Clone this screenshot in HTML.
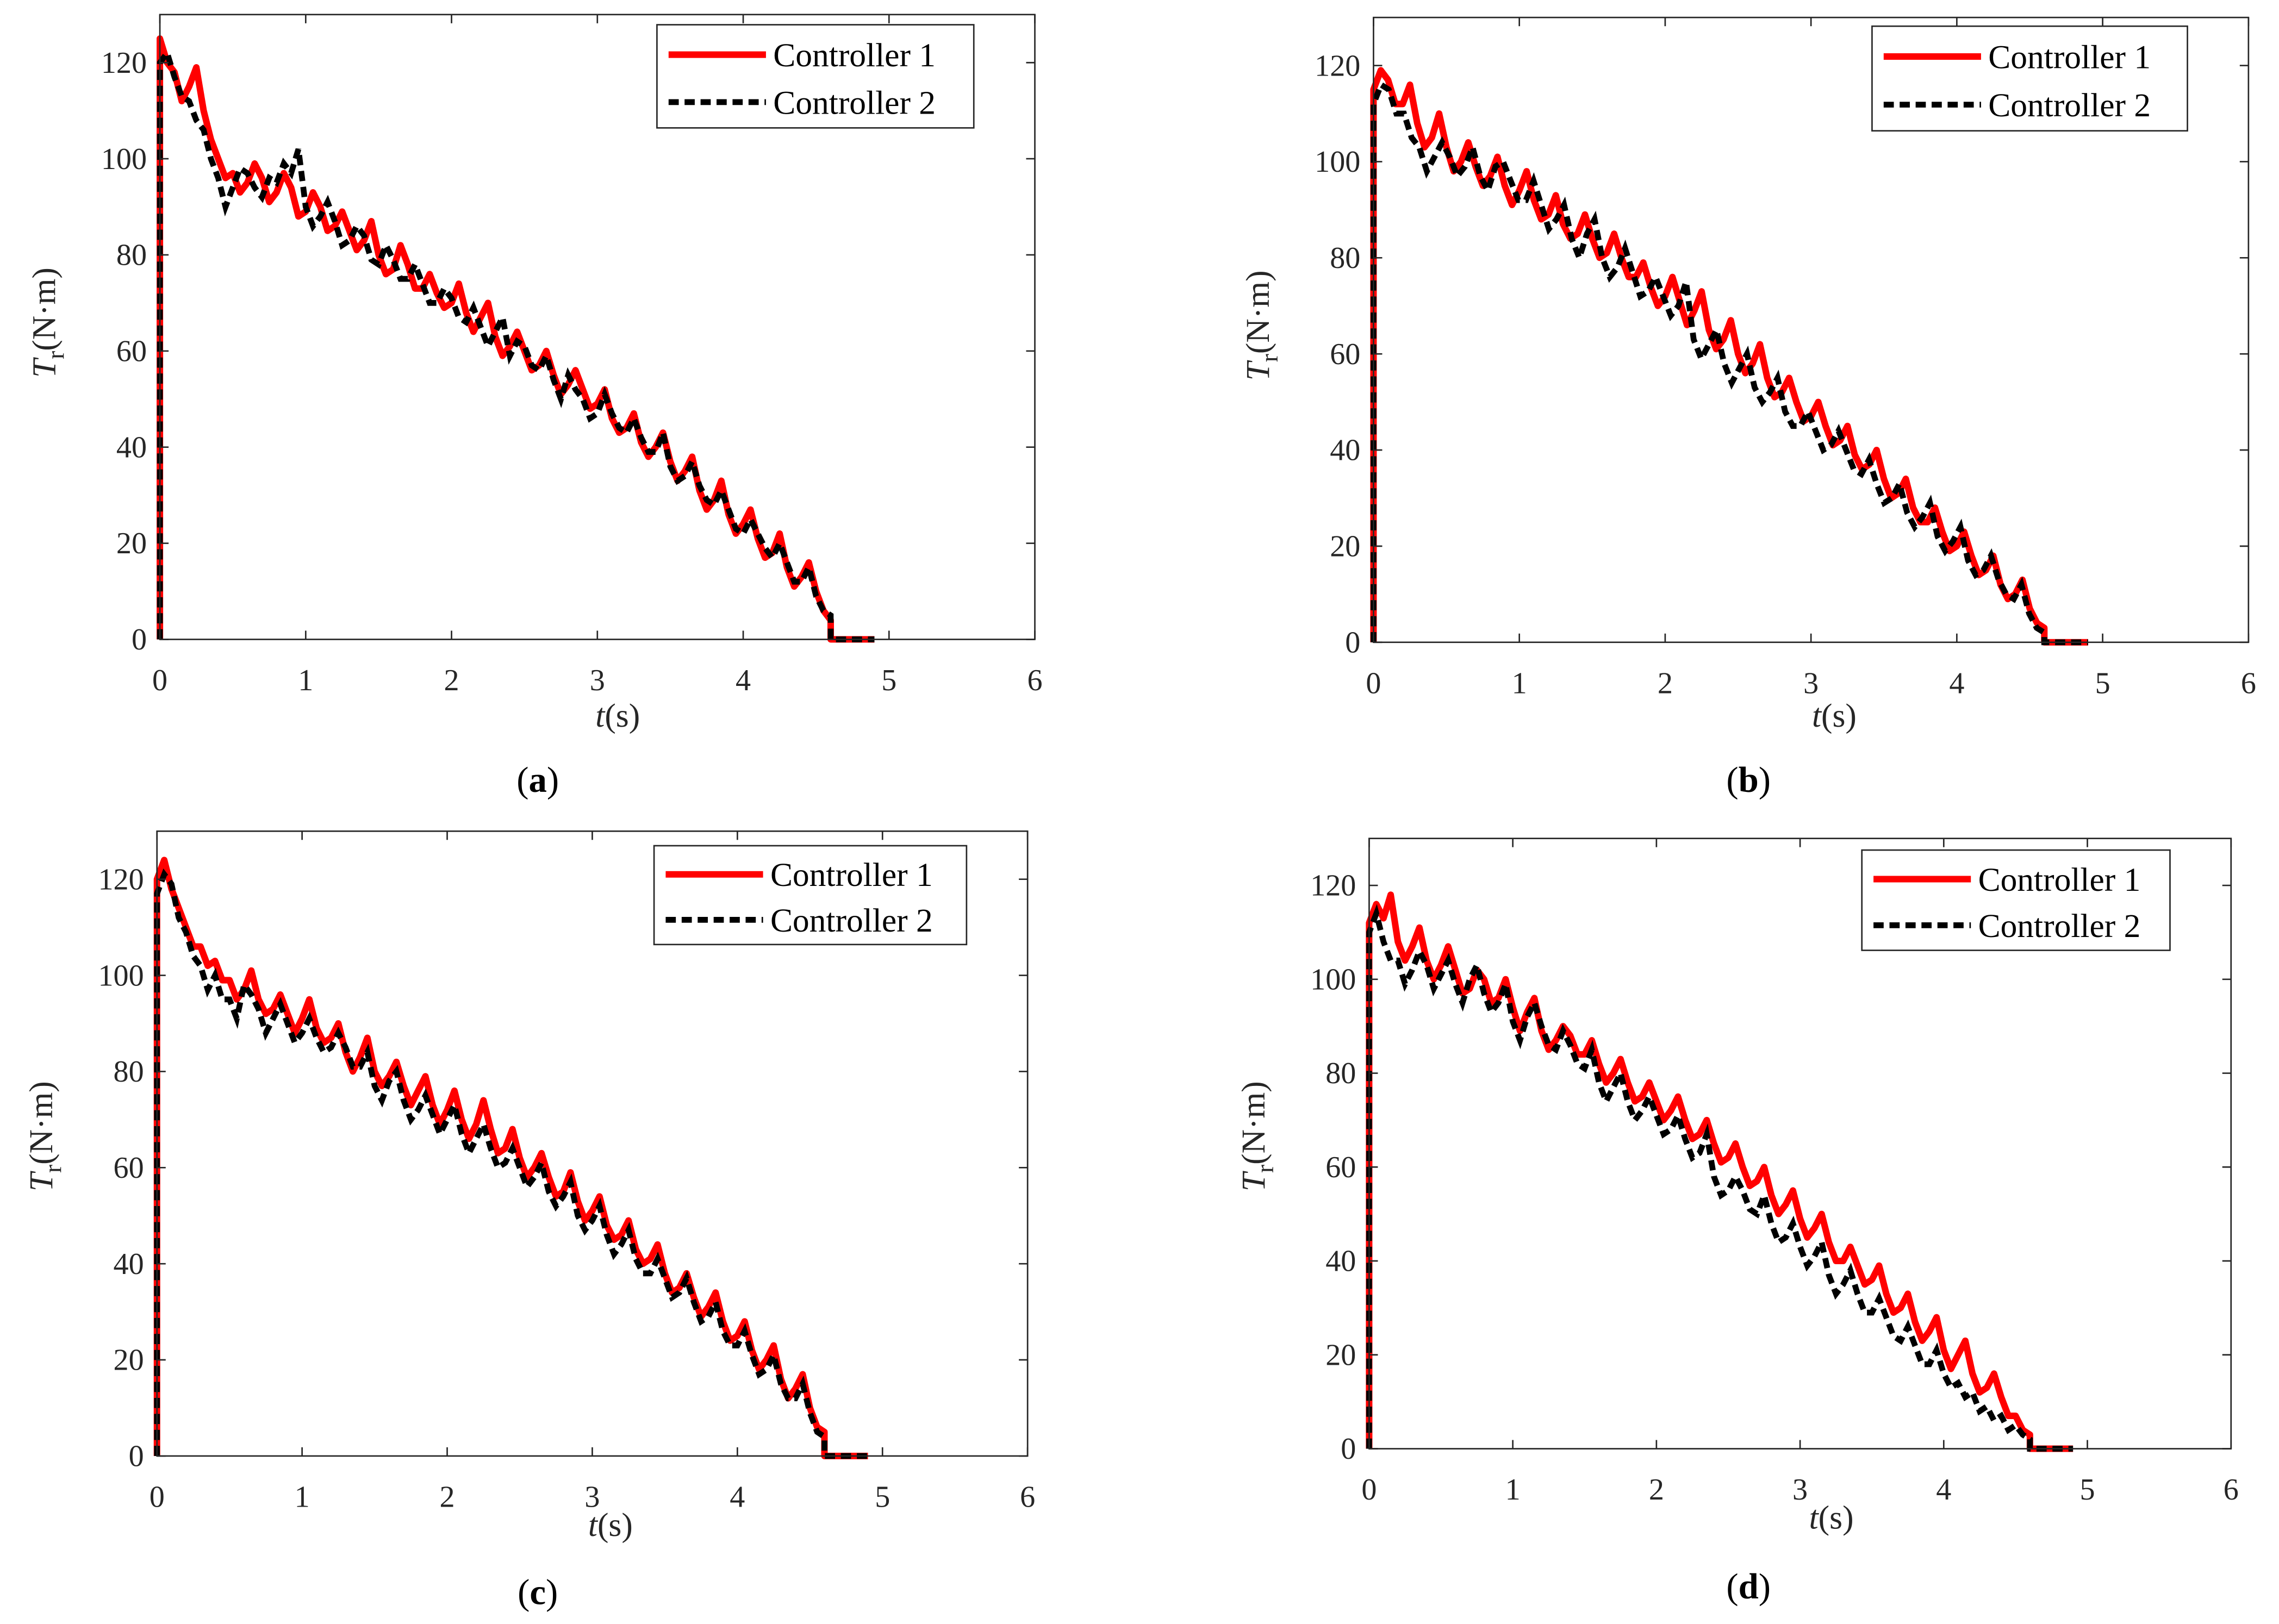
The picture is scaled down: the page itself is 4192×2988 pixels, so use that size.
<!DOCTYPE html>
<html><head><meta charset="utf-8"><style>
html,body{margin:0;padding:0;background:#fff;}
svg{display:block;font-family:'Liberation Serif',serif;}
svg text{font-family:'Liberation Serif',serif;}
</style></head><body>
<svg id="fig" width="4192" height="2988" viewBox="0 0 1568 1117.6" xmlns="http://www.w3.org/2000/svg"></svg>
<script>
const lastT = 4.6;
const endT = 4.9;
const xTicks = [0,1,2,3,4,5,6];
const yTicks = [0,20,40,60,80,100,120];
const a1 = [125,120,118,112,115,119,110,104,100,96,97,93,95,99,96,91,93,97,94,88,89,93,90,85,86,89,85,81,83,87,80,76,77,82,78,73,73,76,72,69,70,74,68,64,67,70,63,59,61,64,60,56,57,60,55,51,53,56,52,48,49,52,46,43,44,47,41,38,40,43,37,33,35,38,31,27,29,33,26,22,24,27,21,17,18,22,15,11,13,16,10,6,4];
const a2 = [120,122,117,113,112,108,106,100,96,90,94,98,97,94,92,96,95,99,97,102,90,86,88,91,87,82,83,86,84,79,78,82,79,75,75,78,74,70,70,73,71,67,66,69,65,61,64,67,59,62,61,57,56,59,54,50,55,52,50,46,47,51,47,44,43,46,42,39,39,43,36,33,34,37,32,29,28,31,27,23,22,25,22,19,17,20,16,12,12,15,9,6,5];
const b1 = [115,119,117,112,112,116,108,103,105,110,103,98,100,104,99,95,97,101,95,91,94,98,92,88,89,93,87,84,85,89,84,80,81,85,80,76,76,79,74,70,72,76,71,66,69,73,65,61,63,67,60,56,58,62,55,51,52,55,50,46,47,50,45,41,42,45,39,36,37,40,34,30,31,34,28,25,25,28,23,19,20,23,18,14,15,18,12,9,10,13,7,4,3];
const b2 = [112,116,115,110,110,105,103,98,101,104,101,97,99,103,97,94,99,100,96,92,92,96,91,86,88,91,84,80,85,88,80,76,78,82,77,72,73,76,72,68,70,75,63,59,62,65,58,54,57,60,53,50,52,55,48,45,45,48,44,40,41,44,40,36,35,38,33,29,30,33,27,24,26,29,22,19,21,24,17,14,15,18,13,10,9,12,6,3,2];
const c1 = [120,124,118,114,110,106,106,102,103,99,99,95,97,101,95,92,93,96,92,88,91,95,89,86,87,90,84,80,83,87,80,77,79,82,77,73,76,79,73,69,72,76,70,66,69,74,68,63,64,68,62,58,60,63,58,54,55,59,53,49,51,54,48,45,46,49,43,40,41,44,38,34,35,38,33,29,31,34,28,24,25,28,22,18,20,23,16,12,14,17,10,6,5];
const c2 = [117,121,119,112,109,104,102,97,100,95,95,91,98,96,93,88,91,94,90,86,88,91,87,84,85,88,85,81,81,84,77,74,78,80,74,70,72,75,71,67,70,73,67,63,66,69,64,60,61,64,60,56,58,61,55,52,54,57,50,47,49,52,46,42,44,47,41,38,38,41,37,33,34,37,32,28,29,32,26,23,23,26,21,17,18,21,15,12,12,15,9,5,4];
const d1 = [112,116,113,118,108,104,107,111,104,100,103,107,102,97,98,102,100,95,96,100,94,89,93,96,89,85,87,90,88,84,84,87,82,78,80,83,78,74,75,78,74,70,72,75,70,66,67,70,65,61,62,65,60,56,57,60,54,50,52,55,49,45,47,50,44,40,40,43,39,35,36,39,33,29,30,33,27,23,25,28,21,17,20,23,16,12,13,16,11,7,7,4,3];
const d2 = [110,114,108,104,104,99,102,106,103,98,101,104,99,95,100,103,97,93,95,99,91,87,92,95,90,86,85,89,86,82,81,85,78,74,77,80,74,70,72,75,71,67,68,71,66,62,63,67,58,54,55,58,55,51,50,54,48,44,45,48,43,39,41,44,37,33,35,38,33,29,29,32,28,24,23,26,22,18,18,21,16,13,14,11,12,8,9,6,7,4,5,3,2];

const NS="http://www.w3.org/2000/svg";
const svg=document.getElementById('fig');
function mk(tag,attrs,parent){const e=document.createElementNS(NS,tag);for(const k in attrs)e.setAttribute(k,attrs[k]);if(tag==='text')e.setAttribute('style',"font-family:'Liberation Serif',serif");(parent||svg).appendChild(e);return e;}

const panels=[
 {id:'a',x0:110,x1:712,y0:10,y1:440,s1:a1,s2:a2,leg:[452,17,670,88],xl:[425,500],yl:[30,222],cap:[370,545]},
 {id:'b',x0:945,x1:1547,y0:12,y1:442,s1:b1,s2:b2,leg:[1288,18,1505,90],xl:[1262,500],yl:[865,224],cap:[1203,545]},
 {id:'c',x0:108,x1:707,y0:572,y1:1002,s1:c1,s2:c2,leg:[450,582,665,650],xl:[420,1057],yl:[28,782],cap:[370,1104]},
 {id:'d',x0:942,x1:1535,y0:577,y1:997,s1:d1,s2:d2,leg:[1281,585,1493,654],xl:[1260,1052],yl:[862,782],cap:[1203,1100]}
];

panels.forEach(p=>{
 const g=mk('g',{});
 
 
 const xs=t=>p.x0+(p.x1-p.x0)*t/6;
 const ys=v=>p.y1-(p.y1-p.y0)*v/130;
 function path(series){
  const step=lastT/(series.length-1);
  let d='M'+xs(0)+','+ys(0);
  series.forEach((v,i)=>{d+=' L'+xs(i*step).toFixed(2)+','+ys(v).toFixed(2);});
  d+=' L'+xs(lastT).toFixed(2)+','+ys(0)+' L'+xs(endT)+','+ys(0);
  return d;
 }
 const l1=mk('path',{d:path(p.s1),fill:'none',stroke:'#ff0000','stroke-width':4.5,'stroke-linejoin':'round'},g);
 
 
 const l2=mk('path',{d:path(p.s2),fill:'none',stroke:'#000','stroke-width':4,'stroke-dasharray':'7,4'},g);
 
 
 const box=mk('rect',{x:p.x0,y:p.y0,width:p.x1-p.x0,height:p.y1-p.y0,fill:'none',stroke:'#262626','stroke-width':1},g);
 
 
 xTicks.forEach(t=>{
  const x=xs(t);
  mk('line',{x1:x,x2:x,y1:p.y1,y2:p.y1-6,stroke:'#262626'},g);
  mk('line',{x1:x,x2:x,y1:p.y0,y2:p.y0+6,stroke:'#262626'},g);
  const tx=mk('text',{x:x,y:p.y1+35,'font-size':21,'text-anchor':'middle',fill:'#262626'},g);
  tx.textContent=t;
  
  
 });
 yTicks.forEach(v=>{
  const y=ys(v);
  mk('line',{x1:p.x0,x2:p.x0+6,y1:y,y2:y,stroke:'#262626'},g);
  mk('line',{x1:p.x1,x2:p.x1-6,y1:y,y2:y,stroke:'#262626'},g);
  const tx=mk('text',{x:p.x0-9,y:y+7,'font-size':21,'text-anchor':'end',fill:'#262626'},g);
  tx.textContent=v;
  
  
 });
 const xl=mk('text',{x:p.xl[0],y:p.xl[1],'font-size':23,'text-anchor':'middle',fill:'#262626'},g);
 xl.innerHTML='<tspan font-style="italic">t</tspan>(s)';
 
 
 const yl=mk('text',{x:0,y:0,'font-size':23,'text-anchor':'middle',fill:'#262626',transform:'translate('+(p.yl[0]+8)+','+p.yl[1]+') rotate(-90)'},g);
 yl.innerHTML='<tspan font-style="italic">T</tspan><tspan font-size="17" dy="6">r</tspan><tspan dy="-6">(N·m)</tspan>';
 
 
 const cap=mk('text',{x:p.cap[0],y:p.cap[1],'font-size':25,'text-anchor':'middle',fill:'#000'},g);
 cap.innerHTML='(<tspan font-weight="bold">'+p.id+'</tspan>)';
 
 
 const [lx0,ly0,lx1,ly1]=p.leg;
 const lg=mk('g',{},g);
 
 
 mk('rect',{x:lx0,y:ly0,width:lx1-lx0,height:ly1-ly0,fill:'#fff',stroke:'#262626','stroke-width':1},lg);
 const r1=ly0+(ly1-ly0)*0.29, r2=ly0+(ly1-ly0)*0.75;
 mk('line',{x1:lx0+8,x2:lx0+75,y1:r1,y2:r1,stroke:'#ff0000','stroke-width':4.5},lg);
 mk('line',{x1:lx0+8,x2:lx0+75,y1:r2,y2:r2,stroke:'#000','stroke-width':4,'stroke-dasharray':'7,4'},lg);
 const e1=mk('text',{x:lx0+80,y:r1+8,'font-size':23,fill:'#000'},lg);
 e1.textContent='Controller 1';
 
 
 const e2=mk('text',{x:lx0+80,y:r2+8,'font-size':23,fill:'#000'},lg);
 e2.textContent='Controller 2';
 
 
});
</script>
</body></html>
